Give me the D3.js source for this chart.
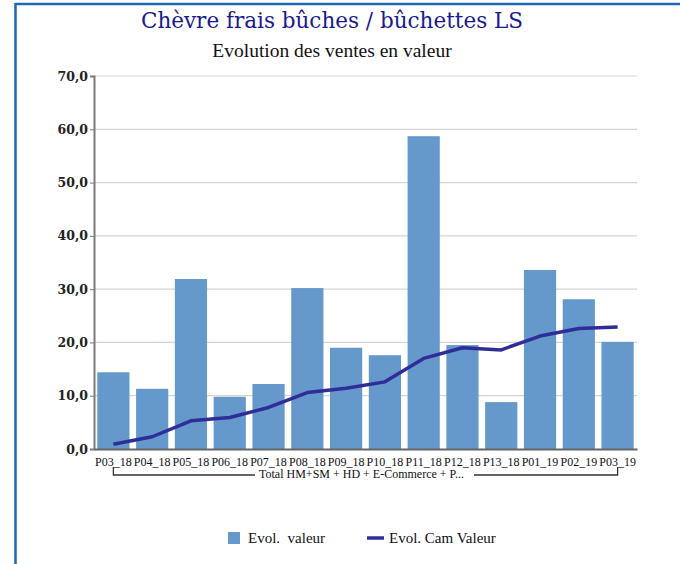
<!DOCTYPE html>
<html><head><meta charset="utf-8">
<script src="https://cdn.jsdelivr.net/npm/d3@7"></script>
<style>body{margin:0;background:#fff}svg{display:block}</style>
</head><body>
<svg id="c" width="680" height="564"></svg>
<script>
const categories = ["P03_18","P04_18","P05_18","P06_18","P07_18","P08_18","P09_18","P10_18","P11_18","P12_18","P13_18","P01_19","P02_19","P03_19"];
const evolValeur = [14.4,11.3,31.9,9.8,12.2,30.2,19.0,17.6,58.7,19.5,8.8,33.6,28.1,20.1];
const evolCamValeur = [0.9,2.3,5.3,5.9,7.8,10.6,11.4,12.6,17.0,19.0,18.6,21.2,22.6,22.9];
const yTicks = [0,10,20,30,40,50,60,70];
const groupLabel = "Total HM+SM + HD + E-Commerce + P...";

const svg = d3.select("#c");
const serif = "'DejaVu Serif', serif";
const times = "'Liberation Serif', serif";

// frame
svg.append("line").attr("x1",15.5).attr("x2",15.5).attr("y1",3).attr("y2",564).attr("stroke","#1f65b4").attr("stroke-width",2.5);
svg.append("line").attr("x1",15).attr("x2",680).attr("y1",4).attr("y2",4).attr("stroke","#1f65b4").attr("stroke-width",2.5);

svg.append("text").attr("x",332).attr("y",28).attr("text-anchor","middle")
  .attr("font-family",serif).attr("font-size",21.5).attr("fill","#1a1a8e").text("Chèvre frais bûches / bûchettes LS");
svg.append("text").attr("x",332).attr("y",57).attr("text-anchor","middle")
  .attr("font-family",times).attr("font-size",19.5).attr("fill","#111").text("Evolution des ventes en valeur");

const x = d3.scaleBand().domain(categories).range([94,637]).paddingInner(0.17).paddingOuter(0.085);
const y = d3.scaleLinear().domain([0,70]).range([449,76]);

// grid
svg.append("g").selectAll("line").data(yTicks.filter(d=>d>0)).join("line")
  .attr("x1",94).attr("x2",637).attr("y1",d=>y(d)).attr("y2",d=>y(d))
  .attr("stroke","#d4d4d4").attr("stroke-width",1.2);

// bars
svg.append("g").selectAll("rect").data(evolValeur).join("rect")
  .attr("x",(d,i)=>x(categories[i])).attr("width",x.bandwidth())
  .attr("y",d=>y(d)).attr("height",d=>y(0)-y(d)).attr("fill","#6598cb");

// y axis
const ya = svg.append("g").attr("transform","translate(94,0)")
  .call(d3.axisLeft(y).tickValues(yTicks).tickSize(4).tickFormat(d=>d3.format(".1f")(d).replace(".",",")));
ya.select(".domain").attr("stroke","#7a7a7a").attr("stroke-width",2);
ya.selectAll(".tick line").attr("stroke","#7a7a7a");
ya.selectAll("text").attr("font-family",serif).attr("font-size",12.5).attr("font-weight","bold").attr("fill","#222").attr("x",-6);

// x axis
const xa = svg.append("g").attr("transform","translate(0,449)")
  .call(d3.axisBottom(x).tickSize(0).tickPadding(8));
xa.select(".domain").attr("stroke","#666").attr("stroke-width",2);
xa.selectAll("text").attr("font-family",times).attr("font-size",12).attr("fill","#111");

// line
svg.append("path").datum(evolCamValeur)
  .attr("d",d3.line().x((d,i)=>x(categories[i])+x.bandwidth()/2).y(d=>y(d)))
  .attr("fill","none").attr("stroke","#2f2d98").attr("stroke-width",3.5).attr("stroke-linejoin","round");

// group bracket
const gx0 = x(categories[0])+x.bandwidth()/2, gx1 = x(categories[categories.length-1])+x.bandwidth()/2;
const gmid = (gx0+gx1)/2 - 4;
const gt = svg.append("text").attr("x",gmid).attr("y",478).attr("text-anchor","middle")
  .attr("font-family",times).attr("font-size",12).attr("fill","#111").text(groupLabel);
const tw = gt.node().getComputedTextLength();
svg.append("path").attr("d",`M${gx0},467V475H${gmid-tw/2-4}M${gmid+tw/2+10},475H${gx1}V467`)
  .attr("fill","none").attr("stroke","#333").attr("stroke-width",1.3);

// legend
const lg = svg.append("g");
lg.append("rect").attr("x",228).attr("y",532).attr("width",12).attr("height",12).attr("fill","#6598cb");
lg.append("text").attr("x",248).attr("y",543).attr("font-family",times).attr("font-size",15).attr("fill","#111").attr("xml:space","preserve").text("Evol.  valeur");
lg.append("line").attr("x1",367).attr("x2",384).attr("y1",538).attr("y2",538).attr("stroke","#2f2d98").attr("stroke-width",3.5);
lg.append("text").attr("x",389).attr("y",543).attr("font-family",times).attr("font-size",15).attr("fill","#111").text("Evol. Cam Valeur");
</script>
</body></html>
